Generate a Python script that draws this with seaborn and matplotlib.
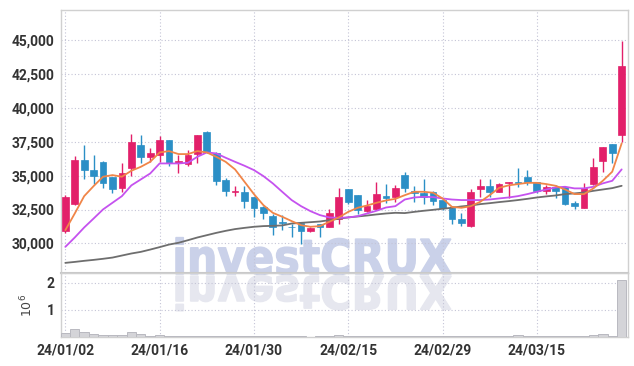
import numpy as np
import pandas as pd
import seaborn as sns
import matplotlib.pyplot as plt
from matplotlib.ticker import FuncFormatter
from matplotlib.textpath import TextPath
from matplotlib.font_manager import FontProperties
from matplotlib.patches import PathPatch
from matplotlib.transforms import Affine2D

dates = ["24/01/02", "24/01/03", "24/01/04", "24/01/05", "24/01/08", "24/01/09", "24/01/10", "24/01/11", "24/01/12", "24/01/15",
         "24/01/16", "24/01/17", "24/01/18", "24/01/19", "24/01/22", "24/01/23", "24/01/24", "24/01/25", "24/01/26", "24/01/29",
         "24/01/30", "24/01/31", "24/02/01", "24/02/02", "24/02/05", "24/02/06", "24/02/07", "24/02/08", "24/02/13", "24/02/14",
         "24/02/15", "24/02/16", "24/02/19", "24/02/20", "24/02/21", "24/02/22", "24/02/23", "24/02/26", "24/02/27", "24/02/28",
         "24/02/29", "24/03/04", "24/03/05", "24/03/06", "24/03/07", "24/03/08", "24/03/11", "24/03/12", "24/03/13", "24/03/14",
         "24/03/15", "24/03/18", "24/03/19", "24/03/20", "24/03/21", "24/03/22", "24/03/25", "24/03/26", "24/03/27", "24/03/28"]

open_ = [30930, 32900, 36150, 35410, 36000, 34870, 34100, 35530, 37250, 36390,
         36540, 37620, 35900, 35830, 36570, 38190, 36640, 34670, 33800, 33810,
         33390, 32700, 32040, 31600, 31230, 31520, 30930, 31420, 31230, 31770,
         34010, 33540, 32410, 32510, 33490, 33390, 35040, 33860, 33740, 33810,
         33200, 32650, 31840, 31280, 33980, 34250, 33810, 34430, 34520, 34870,
         34520, 33880, 34130, 34130, 32950, 32650, 34350, 36100, 37330, 37990]
high = [33560, 36440, 37250, 36520, 36050, 34900, 35950, 38040, 37990, 37060,
        37940, 37650, 36490, 36890, 38000, 38290, 36740, 34840, 34230, 34230,
        33420, 32750, 32140, 32090, 31470, 31600, 31230, 31470, 32510, 34060,
        34030, 33560, 33200, 34500, 34350, 34300, 35290, 34230, 34720, 33860,
        33220, 32750, 32260, 33980, 34720, 34720, 34430, 34560, 35530, 35410,
        34540, 34300, 34300, 34180, 33150, 34430, 36270, 37100, 37350, 44950]
low = [30740, 32830, 34720, 34380, 34060, 33740, 33810, 34970, 35900, 36020,
       36020, 35700, 35210, 35700, 35950, 36640, 34300, 33490, 33490, 32650,
       31970, 31840, 30610, 30980, 30490, 29950, 30860, 30490, 31180, 31420,
       32900, 32160, 32330, 32460, 32950, 33070, 33810, 33070, 32900, 32800,
       32460, 31470, 31280, 31250, 33390, 33390, 33790, 33320, 34180, 34300,
       33690, 33640, 33320, 32800, 32530, 32630, 34300, 35290, 35900, 37500]
close = [33390, 36150, 35410, 34990, 34470, 34030, 35160, 37480, 36390, 36690,
         37620, 35900, 36100, 36540, 37990, 36710, 34620, 33880, 33840, 33150,
         32650, 32260, 31180, 31520, 31180, 30930, 31150, 31180, 32210, 33390,
         33070, 32460, 32750, 33640, 33320, 34060, 34060, 33690, 33390, 33150,
         32580, 31790, 31520, 33810, 34250, 33810, 34380, 34550, 34470, 34550,
         33880, 34180, 33880, 32880, 32780, 34060, 35610, 37080, 36640, 43080]

ma5 = [30980, 32210, 33490, 34230, 34920, 35040, 34920, 35360, 35650, 36020,
       36710, 36810, 36590, 36590, 36810, 36710, 36390, 36020, 35460, 34550,
       33640, 32830, 32260, 31970, 31650, 31350, 31230, 31280, 31600, 31920,
       32330, 32630, 32800, 33000, 33170, 33290, 33560, 33810, 33810, 33740,
       33320, 32700, 32630, 32750, 33070, 33560, 34100, 34280, 34380, 34470,
       34470, 34380, 34250, 33980, 33640, 33640, 34060, 34620, 35290, 37380]
ma20 = [29750, 30440, 31180, 31840, 32510, 33000, 33490, 34280, 34720, 35160,
        35900, 35900, 35900, 35950, 36390, 36710, 36640, 36320, 36020, 35730,
        35410, 34970, 34430, 33810, 33200, 32750, 32380, 32090, 31920, 31890,
        31920, 32010, 32210, 32410, 32650, 32750, 33240, 33390, 33440, 33420,
        33320, 33240, 33200, 33200, 33200, 33240, 33320, 33390, 33490, 33640,
        33810, 33980, 34130, 34180, 34060, 34060, 34180, 34430, 34620, 35460]
ma60 = [28570, 28640, 28720, 28790, 28870, 28960, 29110, 29260, 29380, 29550,
        29730, 29920, 30050, 30240, 30440, 30610, 30780, 30930, 31060, 31150,
        31230, 31280, 31300, 31330, 31470, 31520, 31570, 31620, 31720, 31820,
        31920, 31990, 32060, 32140, 32210, 32260, 32240, 32330, 32410, 32480,
        32560, 32630, 32730, 32800, 32900, 32970, 33050, 33120, 33200, 33290,
        33390, 33470, 33540, 33640, 33690, 33760, 33880, 33980, 34080, 34250]

volume = [0.15, 0.30, 0.17, 0.10, 0.06, 0.06, 0.06, 0.17, 0.10, 0.04,
          0.09, 0.05, 0.03, 0.03, 0.05, 0.04, 0.05, 0.05, 0.02, 0.02,
          0.03, 0.05, 0.05, 0.04, 0.02, 0.02, 0.01, 0.03, 0.03, 0.06,
          0.02, 0.02, 0.05, 0.04, 0.03, 0.03, 0.03, 0.02, 0.03, 0.03,
          0.02, 0.02, 0.03, 0.05, 0.04, 0.03, 0.03, 0.04, 0.07, 0.04,
          0.03, 0.02, 0.02, 0.04, 0.03, 0.05, 0.07, 0.11, 0.05, 2.11]

tick_dates = ["24/01/02", "24/01/16", "24/01/30", "24/02/15", "24/02/29", "24/03/15"]

df = pd.DataFrame({"date": dates, "open": open_, "high": high, "low": low,
                   "close": close, "ma5": ma5, "ma20": ma20, "ma60": ma60,
                   "volume": volume})
df["x"] = np.arange(len(df))
up = df["close"] >= df["open"]

RED = "#e2206a"
BLUE = "#2b8fc6"

sns.set_style("white")
plt.rcParams["font.family"] = ["Roboto", "DejaVu Sans"]

fig = plt.figure(figsize=(6.34, 3.66), dpi=100)
ax = fig.add_axes([0.0962, 0.254, 0.8943, 0.7186])
axv = fig.add_axes([0.0962, 0.0792, 0.8943, 0.1748], sharex=ax)
for a in (ax, axv):
    a.set_facecolor("none")

# watermark with reflection
prop = FontProperties(family="DejaVu Sans", weight="bold")
tp = TextPath((0, 0), "investCRUX", size=10, prop=prop)
bb = tp.get_extents()
s = 281 / bb.width
x0 = 176 - bb.x0 * s
base = 366 - 274
wm = PathPatch(tp, transform=Affine2D().scale(s * 0.98, s * 1.1).translate(x0, base),
               facecolor="#cad1e9", edgecolor="#cad1e9", linewidth=1.0, zorder=-5)
refl = PathPatch(tp, transform=Affine2D().scale(s * 0.98, -s * 1.05).translate(x0, base - 2),
                 facecolor="#e6e7ef", edgecolor="#e6e7ef", linewidth=1.0, zorder=-5)
fig.add_artist(wm)
fig.add_artist(refl)

# candles
for col, mask in ((RED, up), (BLUE, ~up)):
    d = df[mask]
    ax.vlines(d["x"], d["low"], d["high"], color=col, linewidth=1.0, zorder=3)
    bottom = np.minimum(d["open"], d["close"])
    height = np.maximum((d["close"] - d["open"]).abs(), 70)
    ax.bar(d["x"], height, bottom=bottom, width=0.72, color=col,
           edgecolor=col, linewidth=0.5, zorder=4)

sns.lineplot(data=df, x="x", y="ma60", ax=ax, color="#6e6e6e", linewidth=1.3, zorder=5)
sns.lineplot(data=df, x="x", y="ma20", ax=ax, color="#c552ef", linewidth=1.3, zorder=5)
sns.lineplot(data=df, x="x", y="ma5", ax=ax, color="#f08548", linewidth=1.3, zorder=6)

axv.bar(df["x"], df["volume"], width=1.0, color="#d4d4d8", edgecolor="#b9b9c0",
        linewidth=0.7, zorder=3)

ax.set_xlim(-0.46, 59.67)
ax.set_ylim(27820, 47210)
axv.set_ylim(0, 2.36)

ax.set_yticks(np.arange(30000, 45001, 2500))
ax.yaxis.set_major_formatter(FuncFormatter(lambda v, p: f"{v:,.0f}"))
axv.set_yticks([1, 2])
axv.set_yticklabels(["1", "2"])
tick_pos = [dates.index(t) for t in tick_dates]
axv.set_xticks(tick_pos)
axv.set_xticklabels(tick_dates)
ax.tick_params(axis="x", labelbottom=False)

for a in (ax, axv):
    a.grid(True, linestyle=(0, (1, 2)), color="#c4c4d6", linewidth=0.8)
    a.set_axisbelow(True)
    a.tick_params(length=0, pad=4.5, labelsize=10, labelcolor="#333333")
    for lab in a.get_xticklabels() + a.get_yticklabels():
        lab.set_fontweight("bold")
    for sp in a.spines.values():
        sp.set_color("#d0d0d0")
        sp.set_linewidth(1.0)
ax.spines["bottom"].set_color("#c8c8c8")
ax.spines["bottom"].set_linewidth(1.5)

ax.set_xlabel("")
ax.set_ylabel("")
axv.set_xlabel("")
axv.set_ylabel("$10^6$", fontsize=9, color="#444444", labelpad=8,
               family="DejaVu Serif")

fig.savefig("out.png", dpi=100)
